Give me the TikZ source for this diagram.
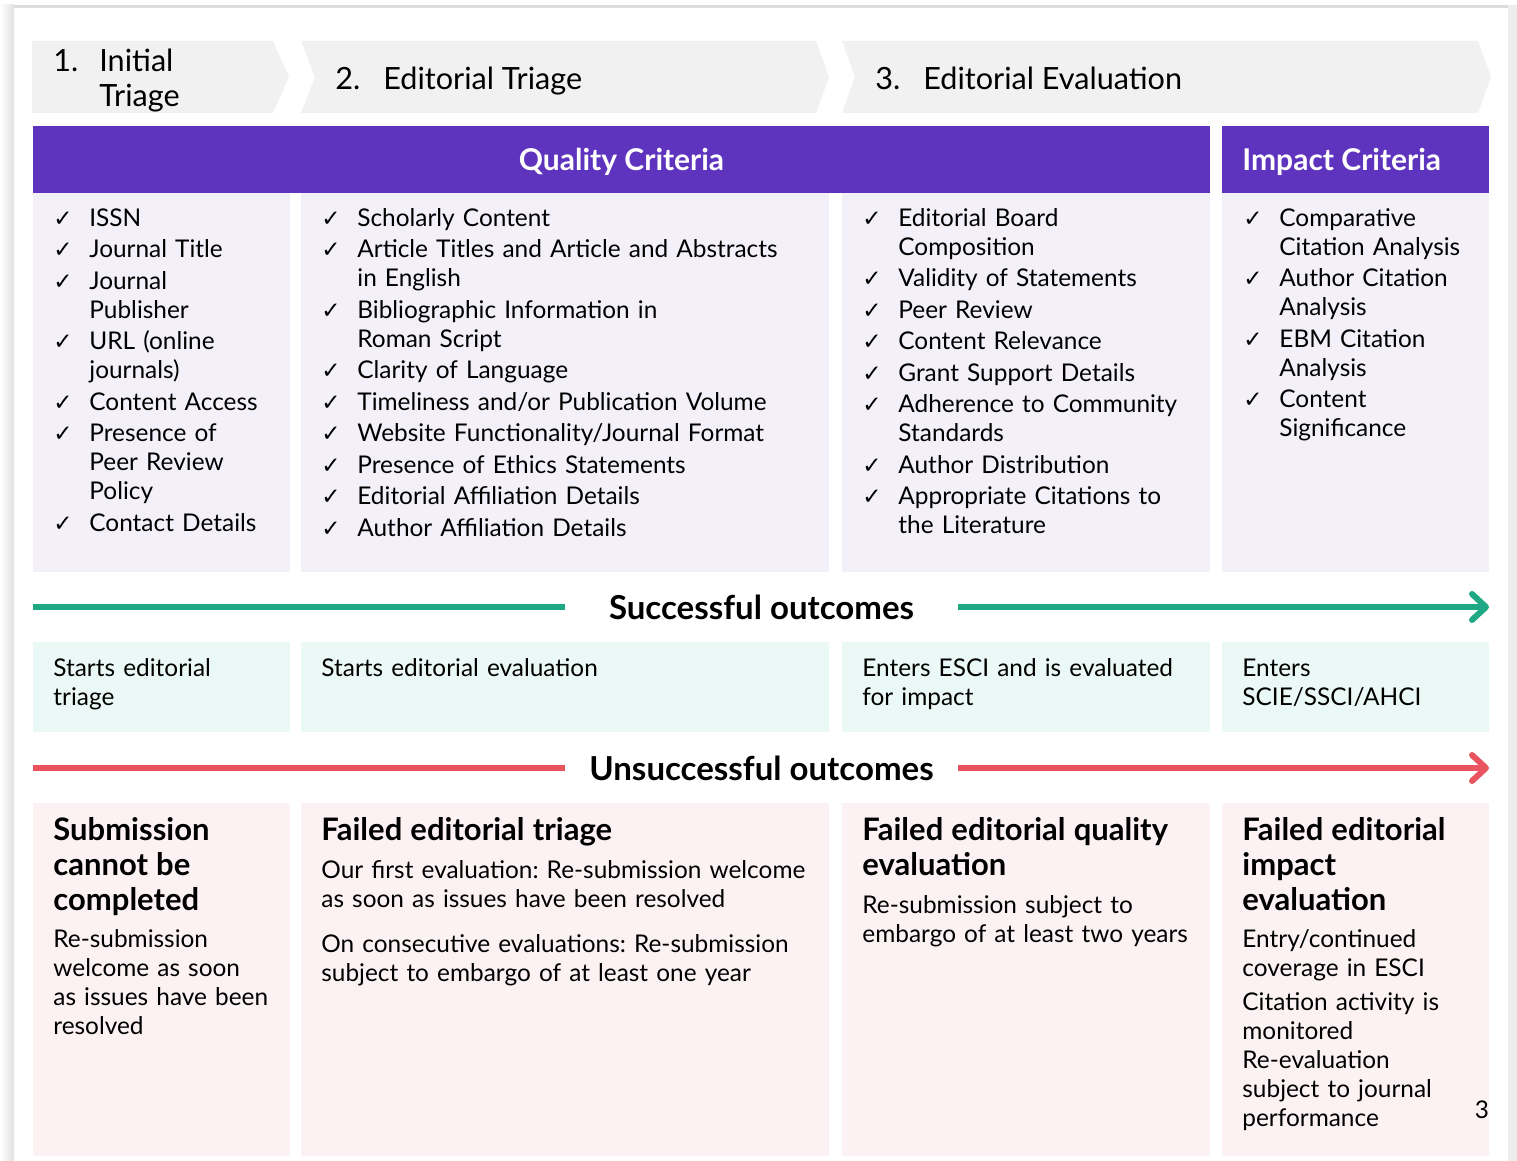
\documentclass[tikz,border=0pt]{standalone}
\usepackage{fontspec}
\setmainfont{Lato}
\newfontfamily\symfont{DejaVu Sans}
\usetikzlibrary{arrows.meta}
\frenchspacing
\definecolor{stagegray}{RGB}{241,241,241}
\definecolor{qpurple}{RGB}{94,52,190}
\definecolor{critfill}{RGB}{243,240,250}
\definecolor{okfill}{RGB}{234,249,246}
\definecolor{failfill}{RGB}{253,242,243}
\definecolor{okline}{RGB}{30,168,132}
\definecolor{failline}{RGB}{234,84,97}
\newcommand\chk{{\symfont\fontsize{11.5}{12}\selectfont ✓}}
\newcommand\crit[1]{\noindent\hangindent=18pt\hangafter=1\strut\makebox[18pt][l]{\chk}#1\par}
\newcommand\otitle{\bfseries\fontsize{15.5}{17.5}\selectfont}
\newcommand\obody{\fontsize{12.2}{14.5}\selectfont}
\begin{document}
\begin{tikzpicture}[x=0.5pt, y=-0.5pt,
stage/.style={fill=stagegray},
stagetext/.style={anchor=base west, inner sep=0, font=\fontsize{15.3}{17.5}\selectfont},
head/.style={fill=qpurple},
headtext/.style={anchor=base, inner sep=0, text=white, font=\bfseries\fontsize{15}{17}\selectfont},
critbox/.style={fill=critfill},
okbox/.style={fill=okfill},
failbox/.style={fill=failfill},
textcol/.style={anchor=north west, inner sep=0, text width=330pt, align=left, font=\obody},
critcol/.style={textcol, execute at begin node={\setlength{\parskip}{1.25pt}}},
flowlabel/.style={inner sep=0, minimum width=196.5pt, minimum height=20pt, font=\bfseries\fontsize{16.5}{18}\selectfont},
flow/.style={line width=3pt},
tip/.style={-{Straight Barb[length=7pt, width=13pt, round]}},
]
\useasboundingbox (0,0) rectangle (1517,1161);
\fill[white] (0,0) rectangle (1517,1161);
\shade[left color=white, right color=black!12] (0,5) rectangle (14,1161);
\fill[black!14] (14,5) rectangle (1508,8);
\fill[black!7] (1508,5) rectangle (1517,1161);

\fill[stage] (32,41) -- (273,41) -- (289,77) -- (273,113) -- (32,113) -- cycle;
\fill[stage] (301,41) -- (816,41) -- (829,77) -- (816,113) -- (301,113) -- (315,77) -- cycle;
\fill[stage] (842,41) -- (1478,41) -- (1491,77) -- (1478,113) -- (842,113) -- (855,77) -- cycle;
\node[stagetext, anchor=west] (st1) at (53,82.5)
  {\begin{tabular}{@{}p{23pt}@{}l@{}}1.&Initial\\&Triage\end{tabular}};
\node[stagetext] (st2) at (335,90) {\makebox[24pt][l]{2.}Editorial Triage};
\node[stagetext] (st3) at (875,90) {\makebox[24pt][l]{3.}Editorial Evaluation};

\fill[head] (33,126) rectangle (1210,193);
\fill[head] (1222,126) rectangle (1489,193);
\node[headtext] (qual) at (621.5,170) {Quality Criteria};
\node[headtext, anchor=base west] (imp) at (1242,170) {Impact Criteria};

\foreach \a/\b in {33/290, 301/829, 842/1210, 1222/1489} {
  \fill[critbox] (\a,193) rectangle (\b,572);
  \fill[okbox] (\a,642) rectangle (\b,732);
  \fill[failbox] (\a,803) rectangle (\b,1156);
}

\node[critcol] (c1) at (53,205.7) {\crit{ISSN}\crit{Journal Title}
  \crit{Journal\newline Publisher}\crit{URL (online\newline journals)}
  \crit{Content Access}\crit{Presence of\newline Peer Review\newline Policy}
  \crit{Contact Details}};
\node[critcol] (c2) at (321,205.7) {\crit{Scholarly Content}
  \crit{Article Titles and Article and Abstracts\newline in English}
  \crit{Bibliographic Information in\newline Roman Script}
  \crit{Clarity of Language}\crit{Timeliness and/or Publication Volume}
  \crit{Website Functionality/Journal Format}\crit{Presence of Ethics Statements}
  \crit{Editorial Affiliation Details}\crit{Author Affiliation Details}};
\node[critcol] (c3) at (862,205.7) {\crit{Editorial Board\newline Composition}
  \crit{Validity of Statements}\crit{Peer Review}\crit{Content Relevance}
  \crit{Grant Support Details}\crit{Adherence to Community\newline Standards}
  \crit{Author Distribution}\crit{Appropriate Citations to\newline the Literature}};
\node[critcol] (c4) at (1243,205.7) {\crit{Comparative\newline Citation Analysis}
  \crit{Author Citation\newline Analysis}\crit{EBM Citation\newline Analysis}
  \crit{Content\newline Significance}};

\coordinate (okL) at (33,607);
\coordinate (okR) at (1489,607);
\node[flowlabel] (ok) at (761.5,607) {Successful outcomes};
\draw[flow, okline] (okL) -- (ok);
\draw[flow, okline, tip] (ok) -- (okR);

\node[textcol] (o1) at (53,655.7) {\strut Starts editorial\newline triage};
\node[textcol] (o2) at (321,655.7) {\strut Starts editorial evaluation};
\node[textcol] (o3) at (862,655.7) {\strut Enters ESCI and is evaluated\newline for impact};
\node[textcol] (o4) at (1242,655.7) {\strut Enters\newline SCIE/SSCI/AHCI};

\coordinate (failL) at (33,768);
\coordinate (failR) at (1489,768);
\node[flowlabel] (fail) at (761.5,768) {Unsuccessful outcomes};
\draw[flow, failline] (failL) -- (fail);
\draw[flow, failline, tip] (fail) -- (failR);

\node[textcol] (f1) at (53,815.5) {{\otitle\strut Submission\newline cannot be\newline completed\par}
  \vspace{4pt}{\obody Re-submission\newline welcome as soon\newline as issues have been\newline resolved\par}};
\node[textcol] (f2) at (321,815.5) {{\otitle\strut Failed editorial triage\par}
  \vspace{4.5pt}{\obody Our first evaluation: Re-submission welcome\newline as soon as issues have been resolved\par}
  \vspace{8pt}{\obody On consecutive evaluations: Re-submission\newline subject to embargo of at least one year\par}};
\node[textcol] (f3) at (862,815.5) {{\otitle\strut Failed editorial quality\newline evaluation\par}
  \vspace{4.5pt}{\obody Re-submission subject to\newline embargo of at least two years\par}};
\node[textcol] (f4) at (1242,815.5) {{\otitle\strut Failed editorial\newline impact\newline evaluation\par}
  \vspace{4pt}{\obody Entry/continued\newline coverage in ESCI\par}
  \vspace{2.5pt}{\obody Citation activity is\newline monitored\par}
  {\obody Re-evaluation\newline subject to journal\newline performance\par}};

\node[anchor=base, inner sep=0, font=\obody] (pg) at (1482,1118) {3};
\end{tikzpicture}
\end{document}
